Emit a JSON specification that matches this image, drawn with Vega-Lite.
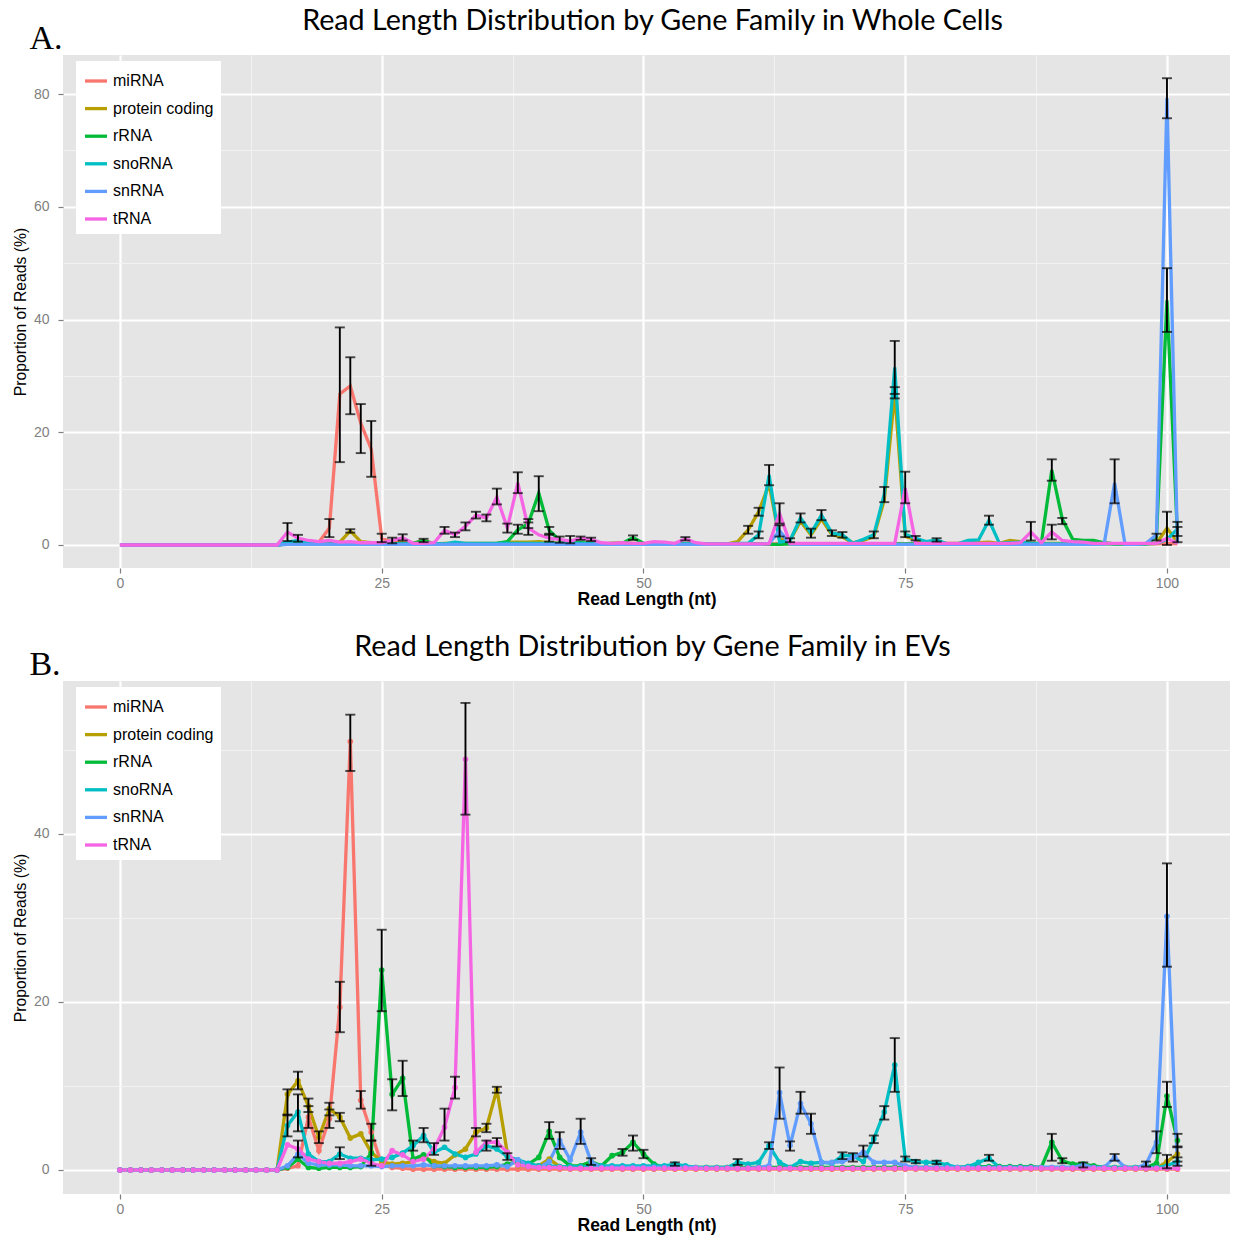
{
"$schema": "https://vega.github.io/schema/vega-lite/v6.json",
"padding": {"left": 12, "top": 7, "right": 2, "bottom": 2},
"background": "white",
"config": {
  "font": "Liberation Sans",
  "view": {"stroke": null, "fill": "#E5E5E5"},
  "axis": {"domain": false, "tickColor": "#7F7F7F", "tickSize": 5, "tickWidth": 1.2, "labelColor": "#7F7F7F", "labelFontSize": 14, "labelFont": "Liberation Sans", "titleFont": "Liberation Sans", "titleFontSize": 15.7, "titleFontWeight": "normal", "titleColor": "black", "labelOverlap": false},
  "concat": {"spacing": 25}
},
"resolve": {"scale": {"color": "independent"}, "legend": {"color": "independent"}},
"datasets": {
"A": [
{"x":0,"miRNA":0,"protein coding":0,"rRNA":0,"snoRNA":0,"snRNA":0,"tRNA":0},
{"x":15,"miRNA":0,"protein coding":0,"rRNA":0,"snoRNA":0,"snRNA":0,"tRNA":0},
{"x":16,"miRNA":0.3,"protein coding":0.3,"rRNA":0.2,"snoRNA":0.5,"snRNA":0.1,"tRNA":2.3},
{"x":17,"miRNA":0.3,"protein coding":0.5,"rRNA":0.5,"snoRNA":0.8,"snRNA":0.1,"tRNA":1.2},
{"x":18,"miRNA":0.3,"protein coding":0.3,"rRNA":0.3,"snoRNA":0.3,"snRNA":0.1,"tRNA":0.8},
{"x":19,"miRNA":0.5,"protein coding":0.3,"rRNA":0.2,"snoRNA":0.2,"snRNA":0.1,"tRNA":0.6},
{"x":20,"miRNA":3.0,"protein coding":0.5,"rRNA":0.3,"snoRNA":0.2,"snRNA":0.1,"tRNA":0.8},
{"x":21,"miRNA":26.8,"protein coding":0.5,"rRNA":0.2,"snoRNA":0.2,"snRNA":0.1,"tRNA":0.5},
{"x":22,"miRNA":28.2,"protein coding":2.5,"rRNA":0.2,"snoRNA":0.2,"snRNA":0.1,"tRNA":0.6},
{"x":23,"miRNA":21.6,"protein coding":0.6,"rRNA":0.2,"snoRNA":0.2,"snRNA":0.1,"tRNA":0.4},
{"x":24,"miRNA":17.0,"protein coding":0.4,"rRNA":0.2,"snoRNA":0.2,"snRNA":0.1,"tRNA":0.4},
{"x":25,"miRNA":1.2,"protein coding":0.3,"rRNA":0.2,"snoRNA":0.2,"snRNA":0.1,"tRNA":0.4},
{"x":26,"miRNA":0.5,"protein coding":0.3,"rRNA":0.2,"snoRNA":0.2,"snRNA":0.1,"tRNA":0.8},
{"x":27,"miRNA":0.4,"protein coding":0.3,"rRNA":0.3,"snoRNA":0.2,"snRNA":0.1,"tRNA":1.3},
{"x":28,"miRNA":0.2,"protein coding":0.3,"rRNA":0.3,"snoRNA":0.2,"snRNA":0.1,"tRNA":0.3},
{"x":29,"miRNA":0.2,"protein coding":0.8,"rRNA":0.8,"snoRNA":0.2,"snRNA":0.1,"tRNA":0.3},
{"x":30,"miRNA":0.2,"protein coding":0.2,"rRNA":0.2,"snoRNA":0.2,"snRNA":0.1,"tRNA":0.4},
{"x":31,"miRNA":0.2,"protein coding":0.3,"rRNA":0.2,"snoRNA":0.2,"snRNA":0.1,"tRNA":2.6},
{"x":32,"miRNA":0.2,"protein coding":0.3,"rRNA":0.2,"snoRNA":0.5,"snRNA":0.1,"tRNA":1.8},
{"x":33,"miRNA":0.2,"protein coding":0.3,"rRNA":0.2,"snoRNA":0.3,"snRNA":0.1,"tRNA":3.3},
{"x":34,"miRNA":0.2,"protein coding":0.3,"rRNA":0.2,"snoRNA":0.3,"snRNA":0.1,"tRNA":5.3},
{"x":35,"miRNA":0.2,"protein coding":0.3,"rRNA":0.2,"snoRNA":0.3,"snRNA":0.1,"tRNA":4.8},
{"x":36,"miRNA":0.2,"protein coding":0.3,"rRNA":0.3,"snoRNA":0.3,"snRNA":0.1,"tRNA":8.5},
{"x":37,"miRNA":0.2,"protein coding":0.5,"rRNA":0.6,"snoRNA":0.3,"snRNA":0.1,"tRNA":3.0},
{"x":38,"miRNA":0.2,"protein coding":0.5,"rRNA":2.7,"snoRNA":0.3,"snRNA":0.1,"tRNA":11.0},
{"x":39,"miRNA":0.2,"protein coding":0.5,"rRNA":3.8,"snoRNA":0.3,"snRNA":0.1,"tRNA":3.0},
{"x":40,"miRNA":0.2,"protein coding":0.6,"rRNA":9.2,"snoRNA":0.3,"snRNA":0.1,"tRNA":1.8},
{"x":41,"miRNA":0.2,"protein coding":0.4,"rRNA":2.6,"snoRNA":0.3,"snRNA":0.1,"tRNA":1.2},
{"x":42,"miRNA":0.2,"protein coding":0.3,"rRNA":0.8,"snoRNA":0.3,"snRNA":0.1,"tRNA":1.0},
{"x":43,"miRNA":0.2,"protein coding":0.3,"rRNA":0.5,"snoRNA":0.3,"snRNA":0.1,"tRNA":0.7},
{"x":44,"miRNA":0.2,"protein coding":0.3,"rRNA":0.4,"snoRNA":0.3,"snRNA":0.1,"tRNA":1.2},
{"x":45,"miRNA":0.2,"protein coding":0.3,"rRNA":0.3,"snoRNA":0.2,"snRNA":0.1,"tRNA":1.0},
{"x":46,"miRNA":0.2,"protein coding":0.2,"rRNA":0.2,"snoRNA":0.2,"snRNA":0.1,"tRNA":0.4},
{"x":47,"miRNA":0.2,"protein coding":0.3,"rRNA":0.3,"snoRNA":0.2,"snRNA":0.1,"tRNA":0.3},
{"x":48,"miRNA":0.2,"protein coding":0.4,"rRNA":0.3,"snoRNA":0.2,"snRNA":0.1,"tRNA":0.4},
{"x":49,"miRNA":0.2,"protein coding":0.3,"rRNA":1.3,"snoRNA":0.2,"snRNA":0.1,"tRNA":0.3},
{"x":50,"miRNA":0.2,"protein coding":0.2,"rRNA":0.3,"snoRNA":0.2,"snRNA":0.1,"tRNA":0.3},
{"x":51,"miRNA":0.2,"protein coding":0.2,"rRNA":0.2,"snoRNA":0.2,"snRNA":0.1,"tRNA":0.6},
{"x":52,"miRNA":0.2,"protein coding":0.2,"rRNA":0.2,"snoRNA":0.2,"snRNA":0.1,"tRNA":0.5},
{"x":53,"miRNA":0.2,"protein coding":0.2,"rRNA":0.2,"snoRNA":0.2,"snRNA":0.1,"tRNA":0.3},
{"x":54,"miRNA":0.2,"protein coding":0.2,"rRNA":0.2,"snoRNA":0.2,"snRNA":0.1,"tRNA":1.1},
{"x":55,"miRNA":0.2,"protein coding":0.2,"rRNA":0.2,"snoRNA":0.2,"snRNA":0.1,"tRNA":0.4},
{"x":56,"miRNA":0.2,"protein coding":0.2,"rRNA":0.2,"snoRNA":0.2,"snRNA":0.1,"tRNA":0.2},
{"x":57,"miRNA":0.2,"protein coding":0.2,"rRNA":0.2,"snoRNA":0.2,"snRNA":0.1,"tRNA":0.2},
{"x":58,"miRNA":0.2,"protein coding":0.2,"rRNA":0.2,"snoRNA":0.2,"snRNA":0.1,"tRNA":0.2},
{"x":59,"miRNA":0.2,"protein coding":0.6,"rRNA":0.2,"snoRNA":0.3,"snRNA":0.1,"tRNA":0.2},
{"x":60,"miRNA":0.2,"protein coding":2.7,"rRNA":0.2,"snoRNA":0.3,"snRNA":0.1,"tRNA":0.2},
{"x":61,"miRNA":0.2,"protein coding":5.9,"rRNA":0.2,"snoRNA":1.8,"snRNA":0.1,"tRNA":0.2},
{"x":62,"miRNA":0.2,"protein coding":10.8,"rRNA":0.1,"snoRNA":12.4,"snRNA":0.3,"tRNA":0.2},
{"x":63,"miRNA":0.2,"protein coding":1.0,"rRNA":0.1,"snoRNA":0.5,"snRNA":2.5,"tRNA":5.6},
{"x":64,"miRNA":0.2,"protein coding":0.8,"rRNA":0.2,"snoRNA":0.8,"snRNA":0.2,"tRNA":0.3},
{"x":65,"miRNA":0.2,"protein coding":4.2,"rRNA":0.2,"snoRNA":4.8,"snRNA":0.1,"tRNA":0.3},
{"x":66,"miRNA":0.2,"protein coding":1.8,"rRNA":0.2,"snoRNA":2.1,"snRNA":0.1,"tRNA":0.3},
{"x":67,"miRNA":0.2,"protein coding":4.6,"rRNA":0.2,"snoRNA":5.3,"snRNA":0.1,"tRNA":0.3},
{"x":68,"miRNA":0.2,"protein coding":1.8,"rRNA":0.2,"snoRNA":2.1,"snRNA":0.1,"tRNA":0.3},
{"x":69,"miRNA":0.2,"protein coding":1.4,"rRNA":0.2,"snoRNA":1.8,"snRNA":0.1,"tRNA":0.3},
{"x":70,"miRNA":0.2,"protein coding":0.4,"rRNA":0.2,"snoRNA":0.3,"snRNA":0.1,"tRNA":0.3},
{"x":71,"miRNA":0.2,"protein coding":0.8,"rRNA":0.2,"snoRNA":1.0,"snRNA":0.1,"tRNA":0.3},
{"x":72,"miRNA":0.2,"protein coding":1.5,"rRNA":0.2,"snoRNA":1.8,"snRNA":0.1,"tRNA":0.3},
{"x":73,"miRNA":0.2,"protein coding":8.0,"rRNA":0.2,"snoRNA":9.0,"snRNA":0.1,"tRNA":0.3},
{"x":74,"miRNA":0.2,"protein coding":27.0,"rRNA":0.2,"snoRNA":31.5,"snRNA":0.1,"tRNA":0.3},
{"x":75,"miRNA":0.2,"protein coding":1.5,"rRNA":0.2,"snoRNA":1.9,"snRNA":0.1,"tRNA":10.1},
{"x":76,"miRNA":0.2,"protein coding":1.0,"rRNA":0.2,"snoRNA":1.2,"snRNA":0.1,"tRNA":0.3},
{"x":77,"miRNA":0.2,"protein coding":0.4,"rRNA":0.2,"snoRNA":0.6,"snRNA":0.1,"tRNA":0.3},
{"x":78,"miRNA":0.2,"protein coding":0.6,"rRNA":0.2,"snoRNA":0.9,"snRNA":0.1,"tRNA":0.3},
{"x":79,"miRNA":0.2,"protein coding":0.3,"rRNA":0.2,"snoRNA":0.2,"snRNA":0.1,"tRNA":0.3},
{"x":80,"miRNA":0.2,"protein coding":0.3,"rRNA":0.2,"snoRNA":0.2,"snRNA":0.1,"tRNA":0.3},
{"x":81,"miRNA":0.2,"protein coding":0.4,"rRNA":0.2,"snoRNA":0.8,"snRNA":0.1,"tRNA":0.3},
{"x":82,"miRNA":0.2,"protein coding":0.4,"rRNA":0.2,"snoRNA":0.9,"snRNA":0.1,"tRNA":0.3},
{"x":83,"miRNA":0.2,"protein coding":0.5,"rRNA":0.2,"snoRNA":4.4,"snRNA":0.1,"tRNA":0.3},
{"x":84,"miRNA":0.2,"protein coding":0.3,"rRNA":0.2,"snoRNA":0.3,"snRNA":0.1,"tRNA":0.3},
{"x":85,"miRNA":0.2,"protein coding":0.8,"rRNA":0.4,"snoRNA":0.4,"snRNA":0.1,"tRNA":0.3},
{"x":86,"miRNA":0.2,"protein coding":0.6,"rRNA":0.3,"snoRNA":0.5,"snRNA":0.1,"tRNA":0.4},
{"x":87,"miRNA":0.2,"protein coding":0.3,"rRNA":0.3,"snoRNA":0.3,"snRNA":0.1,"tRNA":2.3},
{"x":88,"miRNA":0.2,"protein coding":0.3,"rRNA":0.3,"snoRNA":0.2,"snRNA":0.1,"tRNA":0.4},
{"x":89,"miRNA":0.2,"protein coding":0.3,"rRNA":13.3,"snoRNA":0.2,"snRNA":0.1,"tRNA":2.3},
{"x":90,"miRNA":0.2,"protein coding":0.3,"rRNA":4.6,"snoRNA":0.2,"snRNA":0.1,"tRNA":0.8},
{"x":91,"miRNA":0.2,"protein coding":0.3,"rRNA":1.0,"snoRNA":0.2,"snRNA":0.1,"tRNA":0.6},
{"x":92,"miRNA":0.2,"protein coding":0.3,"rRNA":0.8,"snoRNA":0.2,"snRNA":0.1,"tRNA":0.5},
{"x":93,"miRNA":0.2,"protein coding":0.3,"rRNA":0.8,"snoRNA":0.2,"snRNA":0.1,"tRNA":0.3},
{"x":94,"miRNA":0.2,"protein coding":0.3,"rRNA":0.4,"snoRNA":0.2,"snRNA":0.2,"tRNA":0.3},
{"x":95,"miRNA":0.2,"protein coding":0.2,"rRNA":0.2,"snoRNA":0.2,"snRNA":11.0,"tRNA":0.3},
{"x":96,"miRNA":0.2,"protein coding":0.2,"rRNA":0.2,"snoRNA":0.2,"snRNA":0.1,"tRNA":0.3},
{"x":97,"miRNA":0.2,"protein coding":0.2,"rRNA":0.2,"snoRNA":0.2,"snRNA":0.1,"tRNA":0.3},
{"x":98,"miRNA":0.2,"protein coding":0.2,"rRNA":0.2,"snoRNA":0.2,"snRNA":0.3,"tRNA":0.3},
{"x":99,"miRNA":0.2,"protein coding":0.3,"rRNA":1.5,"snoRNA":0.3,"snRNA":1.8,"tRNA":0.3},
{"x":100,"miRNA":0.3,"protein coding":3.0,"rRNA":43.4,"snoRNA":1.0,"snRNA":79.3,"tRNA":1.2},
{"x":101,"miRNA":0.2,"protein coding":0.5,"rRNA":1.8,"snoRNA":2.8,"snRNA":0.3,"tRNA":0.3}
],
"B": [
{"x":0,"miRNA":0,"protein coding":0,"rRNA":0,"snoRNA":0,"snRNA":0,"tRNA":0},
{"x":1,"miRNA":0,"protein coding":0,"rRNA":0,"snoRNA":0,"snRNA":0,"tRNA":0},
{"x":2,"miRNA":0,"protein coding":0,"rRNA":0,"snoRNA":0,"snRNA":0,"tRNA":0},
{"x":3,"miRNA":0,"protein coding":0,"rRNA":0,"snoRNA":0,"snRNA":0,"tRNA":0},
{"x":4,"miRNA":0,"protein coding":0,"rRNA":0,"snoRNA":0,"snRNA":0,"tRNA":0},
{"x":5,"miRNA":0,"protein coding":0,"rRNA":0,"snoRNA":0,"snRNA":0,"tRNA":0},
{"x":6,"miRNA":0,"protein coding":0,"rRNA":0,"snoRNA":0,"snRNA":0,"tRNA":0},
{"x":7,"miRNA":0,"protein coding":0,"rRNA":0,"snoRNA":0,"snRNA":0,"tRNA":0},
{"x":8,"miRNA":0,"protein coding":0,"rRNA":0,"snoRNA":0,"snRNA":0,"tRNA":0},
{"x":9,"miRNA":0,"protein coding":0,"rRNA":0,"snoRNA":0,"snRNA":0,"tRNA":0},
{"x":10,"miRNA":0,"protein coding":0,"rRNA":0,"snoRNA":0,"snRNA":0,"tRNA":0},
{"x":11,"miRNA":0,"protein coding":0,"rRNA":0,"snoRNA":0,"snRNA":0,"tRNA":0},
{"x":12,"miRNA":0,"protein coding":0,"rRNA":0,"snoRNA":0,"snRNA":0,"tRNA":0},
{"x":13,"miRNA":0,"protein coding":0,"rRNA":0,"snoRNA":0,"snRNA":0,"tRNA":0},
{"x":14,"miRNA":0,"protein coding":0,"rRNA":0,"snoRNA":0,"snRNA":0,"tRNA":0},
{"x":15,"miRNA":0,"protein coding":0,"rRNA":0,"snoRNA":0,"snRNA":0,"tRNA":0},
{"x":16,"miRNA":0.2,"protein coding":9.0,"rRNA":0.3,"snoRNA":5.3,"snRNA":0.5,"tRNA":3.0},
{"x":17,"miRNA":0.5,"protein coding":10.6,"rRNA":1.3,"snoRNA":6.9,"snRNA":1.9,"tRNA":2.5},
{"x":18,"miRNA":6.3,"protein coding":7.6,"rRNA":0.3,"snoRNA":1.9,"snRNA":0.8,"tRNA":1.3},
{"x":19,"miRNA":2.3,"protein coding":3.9,"rRNA":0.2,"snoRNA":1.0,"snRNA":0.6,"tRNA":1.0},
{"x":20,"miRNA":6.1,"protein coding":7.3,"rRNA":0.3,"snoRNA":1.0,"snRNA":0.6,"tRNA":0.8},
{"x":21,"miRNA":19.4,"protein coding":6.3,"rRNA":0.3,"snoRNA":1.9,"snRNA":0.6,"tRNA":0.8},
{"x":22,"miRNA":51.0,"protein coding":3.8,"rRNA":0.3,"snoRNA":1.4,"snRNA":0.5,"tRNA":1.0},
{"x":23,"miRNA":8.3,"protein coding":4.3,"rRNA":0.4,"snoRNA":1.4,"snRNA":0.5,"tRNA":1.3},
{"x":24,"miRNA":4.5,"protein coding":2.1,"rRNA":2.0,"snoRNA":1.2,"snRNA":0.5,"tRNA":0.8},
{"x":25,"miRNA":0.6,"protein coding":1.0,"rRNA":23.8,"snoRNA":1.3,"snRNA":0.4,"tRNA":0.5},
{"x":26,"miRNA":0.3,"protein coding":0.7,"rRNA":9.0,"snoRNA":1.5,"snRNA":0.5,"tRNA":2.3},
{"x":27,"miRNA":0.2,"protein coding":0.8,"rRNA":10.9,"snoRNA":2.0,"snRNA":0.5,"tRNA":1.8},
{"x":28,"miRNA":0.1,"protein coding":1.0,"rRNA":1.3,"snoRNA":2.9,"snRNA":0.5,"tRNA":1.0},
{"x":29,"miRNA":0.1,"protein coding":1.5,"rRNA":1.8,"snoRNA":4.1,"snRNA":0.6,"tRNA":1.3},
{"x":30,"miRNA":0.1,"protein coding":1.0,"rRNA":0.5,"snoRNA":2.1,"snRNA":0.5,"tRNA":2.5},
{"x":31,"miRNA":0.1,"protein coding":0.8,"rRNA":0.4,"snoRNA":2.7,"snRNA":0.5,"tRNA":5.1},
{"x":32,"miRNA":0.1,"protein coding":1.8,"rRNA":0.3,"snoRNA":1.9,"snRNA":0.5,"tRNA":9.8},
{"x":33,"miRNA":0.1,"protein coding":2.5,"rRNA":0.3,"snoRNA":1.5,"snRNA":0.5,"tRNA":48.9},
{"x":34,"miRNA":0.1,"protein coding":4.5,"rRNA":0.3,"snoRNA":1.9,"snRNA":0.5,"tRNA":2.1},
{"x":35,"miRNA":0.1,"protein coding":5.0,"rRNA":0.3,"snoRNA":2.9,"snRNA":0.5,"tRNA":3.3},
{"x":36,"miRNA":0.1,"protein coding":9.6,"rRNA":0.4,"snoRNA":2.5,"snRNA":0.6,"tRNA":3.3},
{"x":37,"miRNA":0.1,"protein coding":2.0,"rRNA":0.7,"snoRNA":1.6,"snRNA":0.4,"tRNA":2.1},
{"x":38,"miRNA":0.1,"protein coding":0.5,"rRNA":1.0,"snoRNA":1.2,"snRNA":1.2,"tRNA":0.6},
{"x":39,"miRNA":0.1,"protein coding":0.4,"rRNA":0.7,"snoRNA":0.8,"snRNA":0.5,"tRNA":0.4},
{"x":40,"miRNA":0.1,"protein coding":0.5,"rRNA":1.5,"snoRNA":0.5,"snRNA":0.3,"tRNA":0.3},
{"x":41,"miRNA":0.1,"protein coding":1.3,"rRNA":4.6,"snoRNA":0.5,"snRNA":1.0,"tRNA":0.3},
{"x":42,"miRNA":0.1,"protein coding":0.4,"rRNA":1.5,"snoRNA":0.4,"snRNA":3.5,"tRNA":0.3},
{"x":43,"miRNA":0.1,"protein coding":0.3,"rRNA":0.5,"snoRNA":0.4,"snRNA":1.2,"tRNA":0.2},
{"x":44,"miRNA":0.1,"protein coding":0.3,"rRNA":0.5,"snoRNA":0.4,"snRNA":4.5,"tRNA":0.2},
{"x":45,"miRNA":0.1,"protein coding":0.3,"rRNA":1.0,"snoRNA":0.4,"snRNA":1.0,"tRNA":0.2},
{"x":46,"miRNA":0.1,"protein coding":0.2,"rRNA":0.5,"snoRNA":0.5,"snRNA":0.3,"tRNA":0.2},
{"x":47,"miRNA":0.1,"protein coding":0.2,"rRNA":1.7,"snoRNA":0.5,"snRNA":0.3,"tRNA":0.2},
{"x":48,"miRNA":0.1,"protein coding":0.2,"rRNA":2.1,"snoRNA":0.5,"snRNA":0.3,"tRNA":0.2},
{"x":49,"miRNA":0.1,"protein coding":0.2,"rRNA":3.3,"snoRNA":0.5,"snRNA":0.3,"tRNA":0.2},
{"x":50,"miRNA":0.1,"protein coding":0.2,"rRNA":1.9,"snoRNA":0.5,"snRNA":0.3,"tRNA":0.2},
{"x":51,"miRNA":0.1,"protein coding":0.2,"rRNA":0.7,"snoRNA":0.5,"snRNA":0.3,"tRNA":0.2},
{"x":52,"miRNA":0.1,"protein coding":0.2,"rRNA":0.3,"snoRNA":0.5,"snRNA":0.3,"tRNA":0.2},
{"x":53,"miRNA":0.1,"protein coding":0.2,"rRNA":0.3,"snoRNA":0.7,"snRNA":0.3,"tRNA":0.2},
{"x":54,"miRNA":0.1,"protein coding":0.2,"rRNA":0.3,"snoRNA":0.5,"snRNA":0.3,"tRNA":0.2},
{"x":55,"miRNA":0.1,"protein coding":0.2,"rRNA":0.3,"snoRNA":0.3,"snRNA":0.3,"tRNA":0.2},
{"x":56,"miRNA":0.1,"protein coding":0.2,"rRNA":0.3,"snoRNA":0.3,"snRNA":0.2,"tRNA":0.2},
{"x":57,"miRNA":0.1,"protein coding":0.2,"rRNA":0.3,"snoRNA":0.3,"snRNA":0.2,"tRNA":0.2},
{"x":58,"miRNA":0.1,"protein coding":0.2,"rRNA":0.3,"snoRNA":0.3,"snRNA":0.2,"tRNA":0.2},
{"x":59,"miRNA":0.1,"protein coding":0.2,"rRNA":0.3,"snoRNA":0.9,"snRNA":0.2,"tRNA":0.2},
{"x":60,"miRNA":0.1,"protein coding":0.2,"rRNA":0.3,"snoRNA":0.7,"snRNA":0.2,"tRNA":0.2},
{"x":61,"miRNA":0.1,"protein coding":0.2,"rRNA":0.3,"snoRNA":0.9,"snRNA":0.3,"tRNA":0.2},
{"x":62,"miRNA":0.1,"protein coding":0.2,"rRNA":0.3,"snoRNA":2.9,"snRNA":0.5,"tRNA":0.2},
{"x":63,"miRNA":0.1,"protein coding":0.2,"rRNA":0.3,"snoRNA":0.9,"snRNA":9.2,"tRNA":0.2},
{"x":64,"miRNA":0.1,"protein coding":0.2,"rRNA":0.3,"snoRNA":0.3,"snRNA":2.9,"tRNA":0.2},
{"x":65,"miRNA":0.1,"protein coding":0.2,"rRNA":0.3,"snoRNA":1.0,"snRNA":7.9,"tRNA":0.2},
{"x":66,"miRNA":0.1,"protein coding":0.2,"rRNA":0.3,"snoRNA":0.8,"snRNA":5.5,"tRNA":0.2},
{"x":67,"miRNA":0.1,"protein coding":0.2,"rRNA":0.3,"snoRNA":0.9,"snRNA":0.9,"tRNA":0.2},
{"x":68,"miRNA":0.1,"protein coding":0.2,"rRNA":0.3,"snoRNA":0.8,"snRNA":0.9,"tRNA":0.2},
{"x":69,"miRNA":0.1,"protein coding":0.2,"rRNA":0.3,"snoRNA":1.7,"snRNA":1.0,"tRNA":0.2},
{"x":70,"miRNA":0.1,"protein coding":0.2,"rRNA":0.3,"snoRNA":1.7,"snRNA":1.5,"tRNA":0.2},
{"x":71,"miRNA":0.1,"protein coding":0.2,"rRNA":0.3,"snoRNA":1.0,"snRNA":2.1,"tRNA":0.2},
{"x":72,"miRNA":0.1,"protein coding":0.2,"rRNA":0.3,"snoRNA":3.7,"snRNA":0.9,"tRNA":0.2},
{"x":73,"miRNA":0.1,"protein coding":0.2,"rRNA":0.3,"snoRNA":6.9,"snRNA":0.9,"tRNA":0.2},
{"x":74,"miRNA":0.1,"protein coding":0.2,"rRNA":0.3,"snoRNA":12.5,"snRNA":0.9,"tRNA":0.2},
{"x":75,"miRNA":0.1,"protein coding":0.2,"rRNA":0.3,"snoRNA":1.3,"snRNA":0.5,"tRNA":0.2},
{"x":76,"miRNA":0.1,"protein coding":0.2,"rRNA":0.3,"snoRNA":1.0,"snRNA":0.3,"tRNA":0.2},
{"x":77,"miRNA":0.1,"protein coding":0.2,"rRNA":0.3,"snoRNA":0.9,"snRNA":0.3,"tRNA":0.2},
{"x":78,"miRNA":0.1,"protein coding":0.2,"rRNA":0.3,"snoRNA":0.9,"snRNA":0.3,"tRNA":0.2},
{"x":79,"miRNA":0.1,"protein coding":0.2,"rRNA":0.3,"snoRNA":0.6,"snRNA":0.3,"tRNA":0.2},
{"x":80,"miRNA":0.1,"protein coding":0.2,"rRNA":0.3,"snoRNA":0.3,"snRNA":0.3,"tRNA":0.2},
{"x":81,"miRNA":0.1,"protein coding":0.2,"rRNA":0.4,"snoRNA":0.4,"snRNA":0.3,"tRNA":0.2},
{"x":82,"miRNA":0.1,"protein coding":0.2,"rRNA":0.4,"snoRNA":0.9,"snRNA":0.3,"tRNA":0.2},
{"x":83,"miRNA":0.1,"protein coding":0.2,"rRNA":0.4,"snoRNA":1.4,"snRNA":0.3,"tRNA":0.2},
{"x":84,"miRNA":0.1,"protein coding":0.2,"rRNA":0.4,"snoRNA":0.3,"snRNA":0.3,"tRNA":0.2},
{"x":85,"miRNA":0.1,"protein coding":0.2,"rRNA":0.4,"snoRNA":0.3,"snRNA":0.3,"tRNA":0.2},
{"x":86,"miRNA":0.1,"protein coding":0.2,"rRNA":0.4,"snoRNA":0.3,"snRNA":0.3,"tRNA":0.2},
{"x":87,"miRNA":0.1,"protein coding":0.2,"rRNA":0.4,"snoRNA":0.3,"snRNA":0.3,"tRNA":0.2},
{"x":88,"miRNA":0.1,"protein coding":0.2,"rRNA":0.3,"snoRNA":0.3,"snRNA":0.3,"tRNA":0.2},
{"x":89,"miRNA":0.1,"protein coding":0.2,"rRNA":3.3,"snoRNA":0.3,"snRNA":0.3,"tRNA":0.2},
{"x":90,"miRNA":0.1,"protein coding":0.2,"rRNA":1.1,"snoRNA":0.3,"snRNA":0.3,"tRNA":0.2},
{"x":91,"miRNA":0.1,"protein coding":0.2,"rRNA":0.7,"snoRNA":0.3,"snRNA":0.3,"tRNA":0.2},
{"x":92,"miRNA":0.1,"protein coding":0.2,"rRNA":0.7,"snoRNA":0.3,"snRNA":0.6,"tRNA":0.2},
{"x":93,"miRNA":0.1,"protein coding":0.2,"rRNA":0.5,"snoRNA":0.3,"snRNA":0.3,"tRNA":0.2},
{"x":94,"miRNA":0.1,"protein coding":0.2,"rRNA":0.3,"snoRNA":0.3,"snRNA":0.3,"tRNA":0.2},
{"x":95,"miRNA":0.1,"protein coding":0.2,"rRNA":0.3,"snoRNA":0.3,"snRNA":1.5,"tRNA":0.2},
{"x":96,"miRNA":0.1,"protein coding":0.2,"rRNA":0.3,"snoRNA":0.3,"snRNA":0.3,"tRNA":0.2},
{"x":97,"miRNA":0.1,"protein coding":0.2,"rRNA":0.3,"snoRNA":0.3,"snRNA":0.2,"tRNA":0.2},
{"x":98,"miRNA":0.1,"protein coding":0.2,"rRNA":0.3,"snoRNA":0.3,"snRNA":0.7,"tRNA":0.2},
{"x":99,"miRNA":0.1,"protein coding":0.2,"rRNA":0.8,"snoRNA":0.3,"snRNA":3.3,"tRNA":0.2},
{"x":100,"miRNA":0.1,"protein coding":1.0,"rRNA":8.8,"snoRNA":0.5,"snRNA":30.2,"tRNA":0.2},
{"x":101,"miRNA":0.1,"protein coding":1.9,"rRNA":3.5,"snoRNA":1.0,"snRNA":0.5,"tRNA":0.2}
],
"eA": [
{"x":16,"lo":0.7,"hi":3.9},{"x":17,"lo":0.6,"hi":1.8},{"x":20,"lo":1.4,"hi":4.6},{"x":21,"lo":14.7,"hi":38.6},
{"x":22,"lo":23.2,"hi":33.3},{"x":22,"lo":2.2,"hi":2.8},{"x":23,"lo":16.3,"hi":25.0},{"x":24,"lo":12.1,"hi":22.0},
{"x":25,"lo":0.5,"hi":2.0},{"x":26,"lo":0.3,"hi":1.3},{"x":27,"lo":0.8,"hi":1.9},{"x":29,"lo":0.5,"hi":1.1},
{"x":31,"lo":2.0,"hi":3.2},{"x":32,"lo":1.4,"hi":2.2},{"x":33,"lo":2.6,"hi":4.0},{"x":34,"lo":4.7,"hi":5.9},
{"x":35,"lo":4.2,"hi":5.4},{"x":36,"lo":7.2,"hi":10.0},{"x":37,"lo":2.2,"hi":3.8},{"x":38,"lo":9.2,"hi":12.9},
{"x":38,"lo":2.0,"hi":3.6},{"x":39,"lo":1.8,"hi":4.0},{"x":39,"lo":3.0,"hi":4.6},{"x":40,"lo":6.0,"hi":12.2},
{"x":41,"lo":0.6,"hi":2.0},{"x":41,"lo":1.8,"hi":3.2},{"x":42,"lo":0.4,"hi":1.5},{"x":43,"lo":0.3,"hi":1.6},
{"x":44,"lo":0.9,"hi":1.5},{"x":45,"lo":0.7,"hi":1.3},{"x":49,"lo":0.9,"hi":1.7},{"x":54,"lo":0.8,"hi":1.4},
{"x":60,"lo":2.0,"hi":3.4},{"x":61,"lo":5.2,"hi":6.6},{"x":61,"lo":1.2,"hi":2.4},{"x":62,"lo":10.6,"hi":14.2},
{"x":63,"lo":3.8,"hi":7.4},{"x":63,"lo":1.5,"hi":3.5},{"x":64,"lo":0.5,"hi":1.2},{"x":65,"lo":4.0,"hi":5.6},
{"x":66,"lo":1.3,"hi":2.9},{"x":67,"lo":4.4,"hi":6.2},{"x":68,"lo":1.6,"hi":2.6},{"x":69,"lo":1.3,"hi":2.3},
{"x":72,"lo":1.2,"hi":2.4},{"x":73,"lo":7.6,"hi":10.3},{"x":74,"lo":26.8,"hi":36.2},{"x":74,"lo":26.0,"hi":28.0},
{"x":75,"lo":7.4,"hi":13.0},{"x":75,"lo":1.4,"hi":2.4},{"x":76,"lo":0.8,"hi":1.6},{"x":78,"lo":0.6,"hi":1.2},
{"x":83,"lo":3.6,"hi":5.2},{"x":87,"lo":0.8,"hi":4.1},{"x":89,"lo":11.4,"hi":15.2},{"x":89,"lo":1.0,"hi":3.6},
{"x":90,"lo":3.7,"hi":4.8},{"x":95,"lo":7.4,"hi":15.2},{"x":99,"lo":0.8,"hi":2.0},{"x":100,"lo":75.7,"hi":82.8},
{"x":100,"lo":37.8,"hi":49.1},{"x":100,"lo":0.0,"hi":5.9},{"x":101,"lo":1.6,"hi":4.1},{"x":101,"lo":0.5,"hi":3.2}
],
"eB": [
{"x":16,"lo":6.5,"hi":9.6},{"x":16,"lo":4.0,"hi":6.6},{"x":17,"lo":9.6,"hi":11.7},{"x":17,"lo":4.6,"hi":9.0},
{"x":17,"lo":1.5,"hi":3.5},{"x":18,"lo":5.0,"hi":7.6},{"x":18,"lo":6.9,"hi":8.5},{"x":19,"lo":3.2,"hi":4.6},
{"x":20,"lo":5.0,"hi":7.2},{"x":20,"lo":6.5,"hi":8.0},{"x":21,"lo":16.4,"hi":22.4},{"x":21,"lo":1.3,"hi":2.7},
{"x":21,"lo":5.8,"hi":6.8},{"x":22,"lo":47.5,"hi":54.2},{"x":23,"lo":7.3,"hi":9.4},{"x":24,"lo":3.5,"hi":5.5},
{"x":24,"lo":0.5,"hi":3.5},{"x":25,"lo":18.9,"hi":28.6},{"x":26,"lo":7.1,"hi":10.8},{"x":27,"lo":8.8,"hi":13.0},
{"x":28,"lo":2.3,"hi":3.5},{"x":29,"lo":3.3,"hi":5.0},{"x":30,"lo":1.8,"hi":3.2},{"x":31,"lo":3.5,"hi":7.3},
{"x":32,"lo":8.5,"hi":11.1},{"x":33,"lo":42.3,"hi":55.6},{"x":34,"lo":4.0,"hi":5.0},{"x":35,"lo":4.5,"hi":5.5},
{"x":35,"lo":2.3,"hi":3.5},{"x":36,"lo":9.2,"hi":9.9},{"x":36,"lo":2.8,"hi":3.8},{"x":37,"lo":1.2,"hi":2.0},
{"x":41,"lo":3.7,"hi":5.7},{"x":42,"lo":2.5,"hi":4.5},{"x":44,"lo":3.1,"hi":6.1},{"x":45,"lo":0.6,"hi":1.4},
{"x":48,"lo":1.7,"hi":2.5},{"x":49,"lo":2.3,"hi":4.1},{"x":50,"lo":1.4,"hi":2.4},{"x":53,"lo":0.5,"hi":0.9},
{"x":59,"lo":0.6,"hi":1.3},{"x":62,"lo":2.5,"hi":3.3},{"x":63,"lo":6.1,"hi":12.2},{"x":64,"lo":2.3,"hi":3.4},
{"x":65,"lo":6.7,"hi":9.3},{"x":66,"lo":4.3,"hi":6.7},{"x":69,"lo":1.3,"hi":2.1},{"x":70,"lo":1.0,"hi":2.0},
{"x":71,"lo":1.6,"hi":2.9},{"x":72,"lo":3.2,"hi":4.1},{"x":73,"lo":6.0,"hi":7.6},{"x":74,"lo":9.3,"hi":15.7},
{"x":75,"lo":1.0,"hi":1.6},{"x":76,"lo":0.8,"hi":1.2},{"x":78,"lo":0.7,"hi":1.1},{"x":83,"lo":1.1,"hi":1.8},
{"x":89,"lo":1.1,"hi":4.3},{"x":90,"lo":0.8,"hi":1.4},{"x":92,"lo":0.3,"hi":0.9},{"x":95,"lo":1.1,"hi":1.9},
{"x":98,"lo":0.4,"hi":1.0},{"x":99,"lo":2.0,"hi":4.6},{"x":100,"lo":24.2,"hi":36.5},{"x":100,"lo":7.5,"hi":10.5},
{"x":100,"lo":0.2,"hi":1.8},{"x":101,"lo":2.7,"hi":4.3},{"x":101,"lo":1.0,"hi":2.8},{"x":101,"lo":0.5,"hi":1.5}
]
},
"vconcat": [
{
 "title": {"text": "A.", "anchor": "start", "font": "Liberation Serif", "fontSize": 34, "fontWeight": "normal", "color": "black", "offset": -49, "dx": 17},
 "vconcat": [{
  "width": 1167, "height": 513,
  "title": {"text": "Read Length Distribution by Gene Family in Whole Cells", "font": "Lato", "fontSize": 28.7, "fontWeight": "normal", "color": "black", "anchor": "middle", "frame": "group", "offset": 19, "dx": 6},
  "layer": [
   {"data": {"name": "A"},
    "transform": [{"fold": ["miRNA","protein coding","rRNA","snoRNA","snRNA","tRNA"], "as": ["family","value"]}],
    "mark": {"type": "line", "strokeWidth": 3.3},
    "encoding": {
     "x": {"field": "x", "type": "quantitative", "title": "Read Length (nt)", "scale": {"domain": [-5.44, 106.02], "nice": false, "zero": false},
       "axis": {"values": [0,12.5,25,37.5,50,62.5,75,87.5,100], "labelExpr": "datum.value % 25 === 0 ? datum.label : ''",
        "gridColor": {"condition": {"test": "datum.value % 25 === 0", "value": "#FFFFFF"}, "value": "#F2F2F2"},
        "gridWidth": {"condition": {"test": "datum.value % 25 === 0", "value": 2.2}, "value": 1},
        "tickOpacity": {"condition": {"test": "datum.value % 25 === 0", "value": 1}, "value": 0},
        "labelPadding": 3, "titlePadding": 0, "titleFontSize": 17.5, "titleFontWeight": "bold"}},
     "y": {"field": "value", "type": "quantitative", "title": "Proportion of Reads (%)", "scale": {"domain": [-4.08, 86.92], "nice": false, "zero": false},
       "axis": {"values": [0,10,20,30,40,50,60,70,80], "labelExpr": "datum.value % 20 === 0 ? datum.label : ''",
        "gridColor": {"condition": {"test": "datum.value % 20 === 0", "value": "#FFFFFF"}, "value": "#F2F2F2"},
        "gridWidth": {"condition": {"test": "datum.value % 20 === 0", "value": 2.2}, "value": 1},
        "tickOpacity": {"condition": {"test": "datum.value % 20 === 0", "value": 1}, "value": 0},
        "labelPadding": 9, "titlePadding": 5}},
     "color": {"field": "family", "type": "nominal",
       "scale": {"domain": ["miRNA","protein coding","rRNA","snoRNA","snRNA","tRNA"], "range": ["#F8766D","#B79F00","#00BA38","#00BFC4","#619CFF","#F564E3"]},
       "legend": {"orient": "none", "legendX": 13, "legendY": 6, "title": null, "fillColor": "white", "padding": 7, "symbolType": "stroke", "symbolSize": 484, "symbolStrokeWidth": 3.3, "labelFontSize": 16, "labelFont": "Liberation Sans", "labelColor": "black", "rowPadding": 6.6, "labelOffset": 4}}
    }},
   {"data": {"name": "eA"},
    "mark": {"type": "errorbar", "ticks": true, "size": 10, "thickness": 1.9, "color": "black"},
    "encoding": {
     "x": {"field": "x", "type": "quantitative", "title": "Read Length (nt)", "scale": {"domain": [-5.44, 106.02], "nice": false, "zero": false}},
     "y": {"field": "lo", "type": "quantitative", "title": "Proportion of Reads (%)", "scale": {"domain": [-4.08, 86.92], "nice": false, "zero": false}},
     "y2": {"field": "hi"}
    }}
  ]
 }]
},
{
 "title": {"text": "B.", "anchor": "start", "font": "Liberation Serif", "fontSize": 34, "fontWeight": "normal", "color": "black", "offset": -49, "dx": 17},
 "vconcat": [{
  "width": 1167, "height": 513,
  "title": {"text": "Read Length Distribution by Gene Family in EVs", "font": "Lato", "fontSize": 28.7, "fontWeight": "normal", "color": "black", "anchor": "middle", "frame": "group", "offset": 19, "dx": 6},
  "layer": [
   {"data": {"name": "B"},
    "transform": [{"fold": ["miRNA","protein coding","rRNA","snoRNA","snRNA","tRNA"], "as": ["family","value"]}],
    "mark": {"type": "line", "strokeWidth": 3.3},
    "encoding": {
     "x": {"field": "x", "type": "quantitative", "title": "Read Length (nt)", "scale": {"domain": [-5.44, 106.02], "nice": false, "zero": false},
       "axis": {"values": [0,12.5,25,37.5,50,62.5,75,87.5,100], "labelExpr": "datum.value % 25 === 0 ? datum.label : ''",
        "gridColor": {"condition": {"test": "datum.value % 25 === 0", "value": "#FFFFFF"}, "value": "#F2F2F2"},
        "gridWidth": {"condition": {"test": "datum.value % 25 === 0", "value": 2.2}, "value": 1},
        "tickOpacity": {"condition": {"test": "datum.value % 25 === 0", "value": 1}, "value": 0},
        "labelPadding": 3, "titlePadding": 0, "titleFontSize": 17.5, "titleFontWeight": "bold"}},
     "y": {"field": "value", "type": "quantitative", "title": "Proportion of Reads (%)", "scale": {"domain": [-2.86, 58.21], "nice": false, "zero": false},
       "axis": {"values": [0,10,20,30,40,50], "labelExpr": "datum.value % 20 === 0 ? datum.label : ''",
        "gridColor": {"condition": {"test": "datum.value % 20 === 0", "value": "#FFFFFF"}, "value": "#F2F2F2"},
        "gridWidth": {"condition": {"test": "datum.value % 20 === 0", "value": 2.2}, "value": 1},
        "tickOpacity": {"condition": {"test": "datum.value % 20 === 0", "value": 1}, "value": 0},
        "labelPadding": 9, "titlePadding": 5}},
     "color": {"field": "family", "type": "nominal",
       "scale": {"domain": ["miRNA","protein coding","rRNA","snoRNA","snRNA","tRNA"], "range": ["#F8766D","#B79F00","#00BA38","#00BFC4","#619CFF","#F564E3"]},
       "legend": {"orient": "none", "legendX": 13, "legendY": 6, "title": null, "fillColor": "white", "padding": 7, "symbolType": "stroke", "symbolSize": 484, "symbolStrokeWidth": 3.3, "labelFontSize": 16, "labelFont": "Liberation Sans", "labelColor": "black", "rowPadding": 6.6, "labelOffset": 4}}
    }},
   {"data": {"name": "B"},
    "transform": [{"fold": ["miRNA","protein coding","rRNA","snoRNA","snRNA","tRNA"], "as": ["family","value"]}],
    "mark": {"type": "circle", "size": 32, "opacity": 1},
    "encoding": {
     "x": {"field": "x", "type": "quantitative", "title": "Read Length (nt)", "scale": {"domain": [-5.44, 106.02], "nice": false, "zero": false}},
     "y": {"field": "value", "type": "quantitative", "title": "Proportion of Reads (%)", "scale": {"domain": [-2.86, 58.21], "nice": false, "zero": false}},
     "color": {"field": "family", "type": "nominal", "scale": {"domain": ["miRNA","protein coding","rRNA","snoRNA","snRNA","tRNA"], "range": ["#F8766D","#B79F00","#00BA38","#00BFC4","#619CFF","#F564E3"]}, "legend": null}
    }},
   {"data": {"name": "eB"},
    "mark": {"type": "errorbar", "ticks": true, "size": 10, "thickness": 1.9, "color": "black"},
    "encoding": {
     "x": {"field": "x", "type": "quantitative", "title": "Read Length (nt)", "scale": {"domain": [-5.44, 106.02], "nice": false, "zero": false}},
     "y": {"field": "lo", "type": "quantitative", "title": "Proportion of Reads (%)", "scale": {"domain": [-2.86, 58.21], "nice": false, "zero": false}},
     "y2": {"field": "hi"}
    }}
  ]
 }]
}
]
}
